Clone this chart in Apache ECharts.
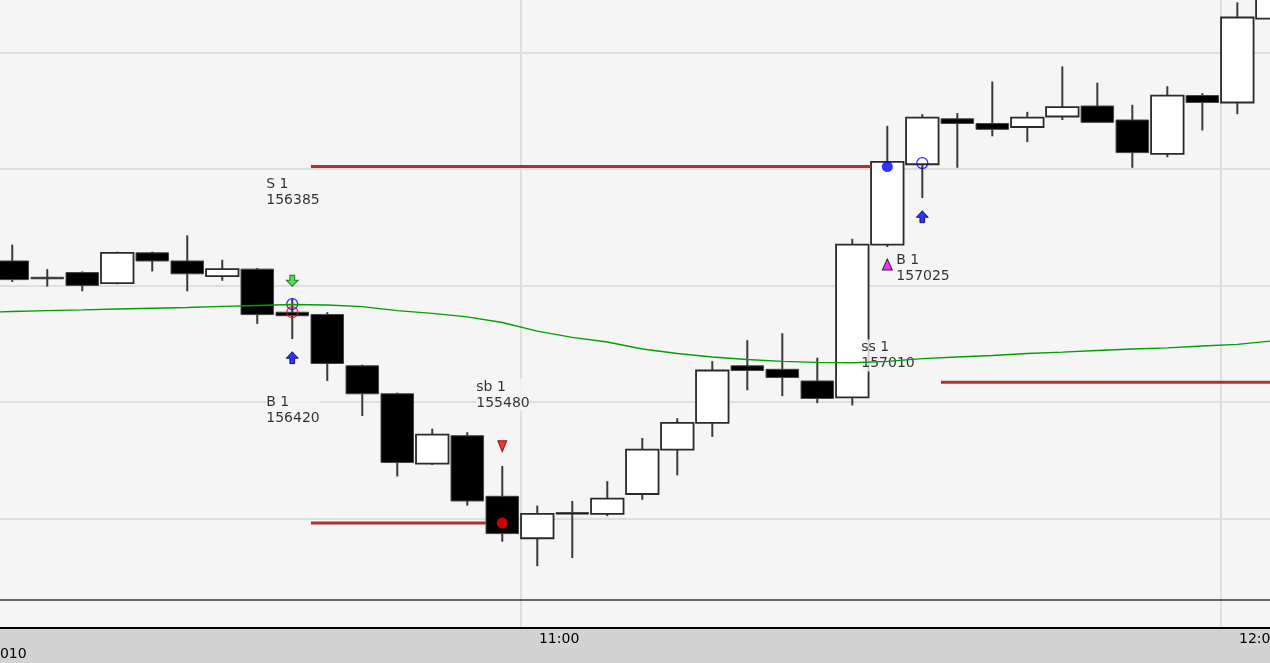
<!DOCTYPE html>
<html><head><meta charset="utf-8">
<script src="https://cdn.jsdelivr.net/npm/echarts@6/dist/echarts.min.js"></script>
<style>html,body{margin:0;padding:0;background:#d3d3d3;overflow:hidden}#c{width:1270px;height:663px}</style>
</head><body><div id="c"></div>
<script>
// ---- data ----
const times = ['10:15','10:18','10:21','10:24','10:27','10:30','10:33','10:36','10:39','10:42','10:45','10:48','10:51','10:54','10:57',
  '11:00','11:03','11:06','11:09','11:12','11:15','11:18','11:21','11:24','11:27','11:30','11:33','11:36','11:39','11:42','11:45',
  '11:48','11:51','11:54','11:57','12:00','12:03'];
const opens  = [156605,156535,156555,156510,156640,156605,156540,156570,156385,156375,156155,156035,155735,155855,155595,
  155415,155525,155520,155605,155795,155910,156155,156140,156090,156020,156675,157020,157215,157195,157180,157225,
  157270,157210,157065,157315,157285,157645];
const closes = [156525,156530,156500,156640,156605,156550,156570,156375,156370,156165,156035,155740,155860,155575,155435,
  155520,155520,155585,155795,155910,156135,156135,156105,156015,156675,157030,157220,157195,157170,157220,157265,
  157200,157070,157315,157285,157650,157800];
const highs  = [156675,156570,156560,156645,156645,156715,156610,156575,156445,156385,156160,156040,155885,155870,155725,
  155555,155575,155660,155845,155930,156175,156265,156295,156190,156700,157185,157235,157240,157375,157245,157440,
  157370,157275,157355,157325,157715,157830];
const lows   = [156515,156495,156475,156505,156560,156475,156520,156335,156270,156090,155940,155680,155730,155555,155400,
  155295,155330,155510,155580,155685,155850,156050,156025,155995,155985,156665,156875,157005,157140,157115,157210,
  157200,157005,157050,157165,157235,157645];

const maTimes = ['10:12'].concat(times);
const maValues = [156384,156388,156392,156395,156399,156402,156405,156410,156414,156418,156416,156409,156392,156380,156365,
  156341,156304,156277,156257,156227,156208,156193,156182,156174,156170,156168,156174,156186,156193,156199,156208,
  156214,156221,156227,156232,156240,156247,156262];

const levelPrices = [157010, 155480, 156085];
const levelFrom   = ['10:42', '10:42', '11:36'];
const levelTo     = ['11:30', '10:57', '12:09'];

const markTimes  = ['10:39','10:39','10:39','10:39','10:57','10:57','11:30','11:30','11:33','11:33'];
const markPrices = [156520,156420,156385,156190,155810,155480,157010,156590,157025,156795];
const markKinds  = ['arrowDownGreen','circleBlue','circleRed','arrowUpBlue','triDownRed','dotRed','dotBlue','triUpMagenta','circleBlue','arrowUpBlue'];
const markNames  = ['', 'B 1', 'S 1', '', '', 'sb 1', 'ss 1', '', 'B 1', ''];

const tickTimes = ['11:00', '12:00'];
const dateText = '2010';

// ---- styles ----
const FONT = 'DejaVu Sans';
const BAR = 3, CENTER = 1.4;
const labelOffsets = {1:[-26,90], 2:[-26,-136], 5:[-26,-144], 6:[-26,173], 8:[-26,89]};
const kindStyle = {
  arrowDownGreen: {symbol:'path://M3,0L7,0L7,4.5L10,4.5L5,10L0,4.5L3,4.5Z', symbolSize:[12,11], itemStyle:{color:'#22dd22', borderColor:'#115511', borderWidth:1}},
  arrowUpBlue:    {symbol:'path://M5,0L10,5.5L7,5.5L7,10L3,10L3,5.5L0,5.5Z', symbolSize:[12,12], itemStyle:{color:'#0000ff', borderColor:'#000040', borderWidth:1}},
  circleBlue:     {symbol:'circle', symbolSize:11, itemStyle:{color:'rgba(0,0,0,0)', borderColor:'#0000ff', borderWidth:1.3}},
  circleRed:      {symbol:'circle', symbolSize:11, itemStyle:{color:'rgba(0,0,0,0)', borderColor:'#ff0000', borderWidth:1.3}},
  dotRed:         {symbol:'circle', symbolSize:11, itemStyle:{color:'#ff0000'}},
  dotBlue:        {symbol:'circle', symbolSize:11, itemStyle:{color:'#0000ff'}},
  triDownRed:     {symbol:'path://M0,0L10,0L5,10Z', symbolSize:[9,11], itemStyle:{color:'#ff0000', borderColor:'#600000', borderWidth:1}},
  triUpMagenta:   {symbol:'triangle', symbolSize:[10,11], itemStyle:{color:'#ff00ff', borderColor:'#000000', borderWidth:1}}
};

function toMin(t){ const p = t.split(':').map(Number); return p[0]*60 + p[1]; }
function fmt(m){ const h = Math.floor(m/60), mm = Math.round(m%60); return h + ':' + (mm<10?'0':'') + mm; }

const candleData = times.map((t,i)=>[toMin(t)+CENTER, opens[i], closes[i], lows[i], highs[i]]);
const maData = maTimes.map((t,i)=>[toMin(t)+CENTER, maValues[i]]);
const tickValues = tickTimes.map(toMin);

const levelSeries = levelPrices.map((p,i)=>({
  type:'line', xAxisIndex:0, yAxisIndex:0, z:3, symbol:'none', silent:true,
  lineStyle:{color:'#b03030', width:3},
  data:[[toMin(levelFrom[i]), p], [toMin(levelTo[i]), p]]
}));

const markData = markTimes.map((t,i)=>{
  const st = kindStyle[markKinds[i]];
  const item = {value:[toMin(t)+CENTER, markPrices[i]], symbol:st.symbol, symbolSize:st.symbolSize, itemStyle:st.itemStyle};
  if (markNames[i]) {
    item.label = {show:true, position:'inside', offset:labelOffsets[i], align:'left', verticalAlign:'top',
      formatter: markNames[i] + '\n' + markPrices[i], color:'#000', fontSize:14, fontFamily:FONT, lineHeight:16,
      backgroundColor:'#f5f5f5'};
  }
  return item;
});

const xMin = 615.35, xMax = 724.2;

const chart = echarts.init(document.getElementById('c'), null, {renderer:'canvas'});
chart.setOption({
  animation:false,
  backgroundColor:'#d3d3d3',
  grid:[
    {left:0, right:0, top:0, height:600, show:true, backgroundColor:'#f5f5f5', borderWidth:0, containLabel:false, outerBoundsMode:'none'},
    {left:0, right:0, top:600, height:28, show:true, backgroundColor:'#f5f5f5', borderWidth:0, containLabel:false, outerBoundsMode:'none'}
  ],
  xAxis:[
    {type:'value', gridIndex:0, min:xMin, max:xMax, position:'bottom',
      axisLine:{show:true, onZero:false, lineStyle:{color:'#333', width:1.5}},
      axisTick:{show:false, customValues:tickValues}, axisLabel:{show:false, customValues:tickValues},
      splitLine:{show:true, lineStyle:{color:'#dedede', width:2}}},
    {type:'value', gridIndex:1, min:xMin, max:xMax, position:'bottom',
      axisLine:{show:true, onZero:false, lineStyle:{color:'#000', width:2}},
      axisTick:{show:false, customValues:tickValues},
      axisLabel:{show:true, customValues:tickValues, formatter:(v)=>fmt(v), align:'left', padding:[0,0,0,18],
        margin:4, color:'#000', fontSize:14, fontFamily:FONT, hideOverlap:false},
      splitLine:{show:true, lineStyle:{color:'#dedede', width:2}}}
  ],
  yAxis:[
    {type:'value', gridIndex:0, min:155150, max:157725,
      axisLine:{show:false}, axisLabel:{show:false, customValues:[155500,156000,156500,157000,157500]},
      axisTick:{show:false, customValues:[155500,156000,156500,157000,157500]},
      splitLine:{show:true, lineStyle:{color:'#dedede', width:2}}},
    {type:'value', gridIndex:1, min:0, max:1, show:false, splitLine:{show:false}}
  ],
  graphic:[{type:'text', x:-9, y:647, style:{text:dateText, fill:'#000', font:'14px "' + FONT + '"', align:'left', verticalAlign:'top'}}],
  series:[
    {type:'custom', xAxisIndex:0, yAxisIndex:0, z:2, clip:true, silent:true,
      encode:{x:0, y:[1,2,3,4]},
      data:candleData,
      renderItem:function(params, api){
        const x = api.value(0), o = api.value(1), c = api.value(2), l = api.value(3), h = api.value(4);
        const pO = api.coord([x,o]), pC = api.coord([x,c]), pL = api.coord([x,l]), pH = api.coord([x,h]);
        const w = api.size([BAR,0])[0] - 2.5;
        const up = c > o;
        const top = Math.min(pO[1], pC[1]), bot = Math.max(pO[1], pC[1]);
        return {type:'group', children:[
          {type:'line', shape:{x1:pH[0], y1:pH[1], x2:pL[0], y2:pL[1]}, style:{stroke:'#3a3a3a', lineWidth:2}},
          {type:'rect', shape:{x:pO[0]-w/2, y:top, width:w, height:Math.max(bot-top,1.5)},
            style:{fill: up ? '#ffffff' : '#000000', stroke: up ? '#2a2a2a' : '#444444', lineWidth: up ? 1.8 : 1}}
        ]};
      }},
    ...levelSeries,
    {type:'line', xAxisIndex:0, yAxisIndex:0, z:6, symbol:'none', silent:true, data:maData,
      lineStyle:{color:'#00a000', width:1.4}},
    {type:'scatter', xAxisIndex:0, yAxisIndex:0, z:5, silent:true, data:markData}
  ]
});
</script></body></html>
